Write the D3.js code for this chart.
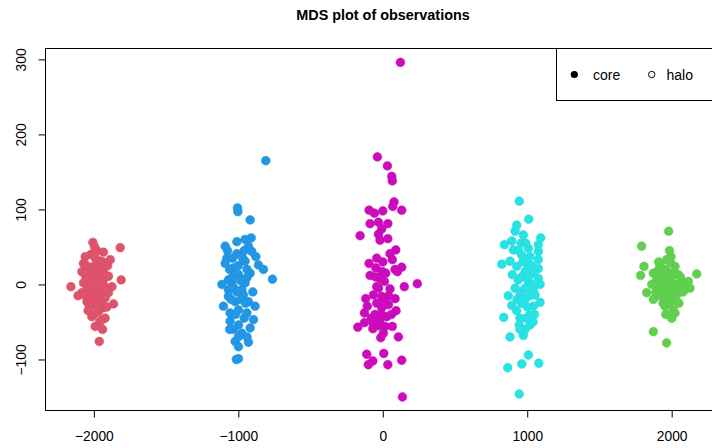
<!DOCTYPE html>
<html>
<head>
<meta charset="utf-8">
<script src="https://cdn.jsdelivr.net/npm/d3@7"></script>
<style>
  body { margin: 0; background: white; }
  svg { font-family: "Liberation Sans", Arial, Helvetica, sans-serif; }
</style>
</head>
<body>
<div id="container"></div>
<script>
const W = 712;
const H = 448;

// cluster data, [x, y]
const red = [
  [-2007, 56], [-1818, 49], [-1979, 45], [-1934, 43], [-2060, 37], [-1887, 33],
  [-2072, 28], [-1956, 31], [-2003, 24], [-2083, 17], [-1934, 20], [-2026, 13],
  [-1968, 11], [-1899, 11], [-1811, 6], [-2159, -3], [-2072, 2], [-2003, 0],
  [-1934, 0], [-1875, -3], [-2083, -11], [-2026, -9], [-1956, -11], [-1899, -11],
  [-2048, -23], [-1979, -20], [-1922, -18], [-1864, -26], [-1991, -27], [-1934, -31],
  [-1968, -36], [-2014, -43], [-1945, -47], [-1922, -45], [-1991, -56], [-1963, -76],
  [-2040, 20], [-1990, 35], [-1960, 15], [-2010, 5], [-1985, -5], [-2045, -5],
  [-1950, -25], [-2000, -15], [-1920, -5], [-2055, 10], [-1970, -30], [-2030, -30],
  [-1995, 50], [-1950, 5], [-2020, 40], [-1905, 25], [-1940, -60], [-2040, -35],
  [-2110, -15], [-2050, 25], [-2000, 40], [-1940, 30], [-1915, 10], [-2060, -15],
  [-2020, -20], [-1960, -50], [-1985, 15], [-2035, 0], [-1960, -5], [-1910, -30],
  [-2000, -40], [-1975, 25], [-2065, 15]
];
const blue = [
  [-810, 165], [-1006, 102], [-1003, 97], [-918, 86], [-911, 62], [-953, 60],
  [-1010, 57], [-1091, 51], [-930, 51], [-907, 44], [-1010, 41], [-1080, 35],
  [-879, 37], [-1091, 28], [-953, 31], [-861, 26], [-826, 20], [-1034, 22],
  [-918, 15], [-999, 13], [-764, 7], [-1069, 6], [-941, 9], [-1114, 0],
  [-1045, 2], [-953, 2], [-1069, -7], [-976, -7], [-1069, -16], [-965, -14],
  [-1022, -23], [-930, -23], [-1103, -29], [-884, -29], [-999, -34], [-1057, -38],
  [-941, -38], [-895, -47], [-1057, -49], [-999, -54], [-918, -58], [-1034, -60],
  [-976, -65], [-1022, -76], [-930, -77], [-999, -83], [-1014, -100], [-999, -99],
  [-1040, 10], [-980, -20], [-1000, 25], [-960, 45], [-1050, -20], [-1020, -40],
  [-960, -45], [-940, 20], [-1060, 20], [-985, 5], [-1030, -5], [-900, -10],
  [-1075, 45], [-1010, -10], [-950, -25], [-1040, 35], [-970, 35], [-1000, -70],
  [-940, -70], [-1060, -60]
];
const magenta = [
  [122, 296], [-37, 170], [32, 158], [62, 144], [66, 138], [78, 110],
  [69, 104], [-95, 99], [-58, 95], [0, 98], [131, 99], [-88, 81],
  [-30, 83], [35, 81], [-7, 74], [-157, 65], [-30, 67], [-19, 59],
  [35, 61], [90, 46], [50, 41], [66, 33], [-42, 35], [-95, 28],
  [-48, 22], [131, 23], [85, 20], [101, 17], [-3, 17], [-88, 12],
  [-19, 8], [239, 1], [11, 4], [-42, -3], [149, -3], [50, -6],
  [-65, -14], [-7, -16], [85, -19], [-118, -19], [-42, -25], [39, -27],
  [-107, -29], [-7, -31], [92, -35], [-127, -38], [-53, -40], [28, -43],
  [-19, -47], [-127, -51], [-65, -52], [16, -56], [66, -56], [-173, -57],
  [-69, -59], [4, -65], [-14, -71], [108, -70], [-111, -93], [7, -92],
  [-69, -102], [-100, -107], [131, -101], [35, -107], [136, -150],
  [-30, -5], [10, -20], [-50, 10], [20, 15], [-10, -40], [40, -15],
  [-30, -55], [60, -40], [0, 30], [-80, -45]
];
const cyan = [
  [945, 111], [1010, 87], [927, 79], [916, 71], [973, 66], [1093, 62],
  [893, 58], [842, 53], [957, 55], [1077, 53], [1008, 48], [904, 46],
  [1077, 44], [962, 39], [1019, 37], [1077, 33], [824, 27], [881, 31],
  [996, 31], [927, 24], [1077, 21], [985, 17], [897, 13], [1042, 15],
  [938, 6], [1077, 8], [1008, 4], [1089, 0], [916, -5], [985, -5],
  [1042, -7], [869, -15], [950, -14], [1054, -14], [985, -20], [1089, -24],
  [893, -28], [1042, -29], [927, -35], [1015, -41], [837, -44], [950, -45],
  [945, -54], [1019, -54], [985, -60], [973, -68], [881, -70], [1008, -94],
  [962, -106], [1080, -105], [865, -111], [945, -146],
  [1000, 20], [960, 10], [1030, 0], [1000, -30], [960, -25], [1030, 25],
  [940, 45], [1050, -40], [990, 55], [960, -10], [1020, -15], [930, -20],
  [1010, 10], [970, 30], [1040, -50], [990, -45], [950, -60]
];
const green = [
  [1979, 71], [1792, 51], [1995, 37], [1965, 33], [1808, 24], [1919, 26],
  [2023, 24], [1785, 12], [1873, 15], [2173, 14], [2046, 13], [1896, 6],
  [1965, 7], [2069, 4], [2115, 4], [1862, 0], [1931, 0], [2011, 0],
  [2092, -3], [2127, -5], [1827, -11], [1907, -9], [1976, -9], [2035, -14],
  [1873, -20], [1954, -18], [2011, -20], [1954, -29], [2011, -34], [2023, -38],
  [1873, -63], [1965, -78],
  [1940, 10], [1980, 15], [1910, 20], [2000, -5], [1950, -8], [1990, 30],
  [2030, -5], [1920, -15], [2060, 10], [1960, -40], [1990, -25],
  [1900, 0], [1930, 15], [1960, 20], [2000, 10], [2040, 0], [1890, -10],
  [1940, -25], [1980, -15], [2020, 15], [2080, -10], [1930, -5], [1970, 0],
  [2050, -25], [1910, 30], [1985, 45], [2000, -45]
];

const clusters = [red, blue, magenta, cyan, green];
const clusterColors = ['#DF536B', '#2297E6', '#CD0BBC', '#28E2E5', '#61D04F'];

const xTicks = [-2000, -1000, 0, 1000, 2000];
const yTicks = [-100, 0, 100, 200, 300];
const legendLabels = ['core', 'halo'];

// plot region (right edge runs past the window, like the original)
const plotLeft = 45.5, plotRight = 720.5, plotTop = 48.5, plotBottom = 410.5;

const x = d3.scaleLinear().domain([-2335, 2338]).range([plotLeft, plotRight]);
const y = d3.scaleLinear().domain([-168, 314.5]).range([plotBottom, plotTop]);

const svg = d3.select('#container')
  .append('svg')
  .attr('width', W)
  .attr('height', H);

svg.append('text')
  .attr('x', (plotLeft + plotRight) / 2)
  .attr('y', 19.5)
  .attr('text-anchor', 'middle')
  .style('font-weight', 'bold')
  .style('font-size', '14.4px')
  .text('MDS plot of observations');

// points
clusters.forEach((pts, i) => {
  const col = clusterColors[i];
  svg.append('g')
    .selectAll('circle')
    .data(pts)
    .join('circle')
    .attr('cx', d => x(d[0]))
    .attr('cy', d => y(d[1]))
    .attr('r', 4.4)
    .style('fill', col)
    .style('stroke', d3.color(col).darker(0.15))
    .style('stroke-width', 0.5);
});

// box
svg.append('rect')
  .attr('x', plotLeft)
  .attr('y', plotTop)
  .attr('width', plotRight - plotLeft)
  .attr('height', plotBottom - plotTop)
  .style('fill', 'none')
  .style('stroke', 'black')
  .style('stroke-width', 1);

// x axis
const gx = svg.append('g')
  .attr('transform', `translate(0,${plotBottom})`)
  .call(d3.axisBottom(x).tickValues(xTicks).tickSize(7).tickPadding(14).tickFormat(d3.format('d')));
gx.select('.domain').remove();
gx.selectAll('text')
  .style('font-size', '13.8px')
  .style('font-family', '"Liberation Sans", Arial, Helvetica, sans-serif')
  .style('fill', 'black');

// y axis
const gy = svg.append('g')
  .attr('transform', `translate(${plotLeft},0)`)
  .call(d3.axisLeft(y).tickValues(yTicks).tickSize(7).tickFormat(d3.format('d')));
gy.select('.domain').remove();
gy.selectAll('text')
  .attr('x', null)
  .attr('dy', null)
  .attr('text-anchor', 'middle')
  .attr('transform', 'translate(-19.5,0) rotate(-90)')
  .style('font-size', '13.8px')
  .style('font-family', '"Liberation Sans", Arial, Helvetica, sans-serif')
  .style('fill', 'black');

// legend
const legendLeft = 556.5, legendBottom = 100.5;
svg.append('rect')
  .attr('x', legendLeft)
  .attr('y', plotTop)
  .attr('width', plotRight - legendLeft)
  .attr('height', legendBottom - plotTop)
  .style('fill', 'white')
  .style('stroke', 'black')
  .style('stroke-width', 1);

const legendY = 74.5;
svg.append('circle')
  .attr('cx', 574.3).attr('cy', legendY).attr('r', 3.6)
  .style('fill', 'black');
svg.append('text')
  .attr('x', 593).attr('y', legendY + 5)
  .style('font-size', '14px')
  .text(legendLabels[0]);
svg.append('circle')
  .attr('cx', 651.7).attr('cy', legendY).attr('r', 3.2)
  .style('fill', 'white')
  .style('stroke', 'black')
  .style('stroke-width', 1);
svg.append('text')
  .attr('x', 666.5).attr('y', legendY + 5)
  .style('font-size', '14px')
  .text(legendLabels[1]);
</script>
</body>
</html>
